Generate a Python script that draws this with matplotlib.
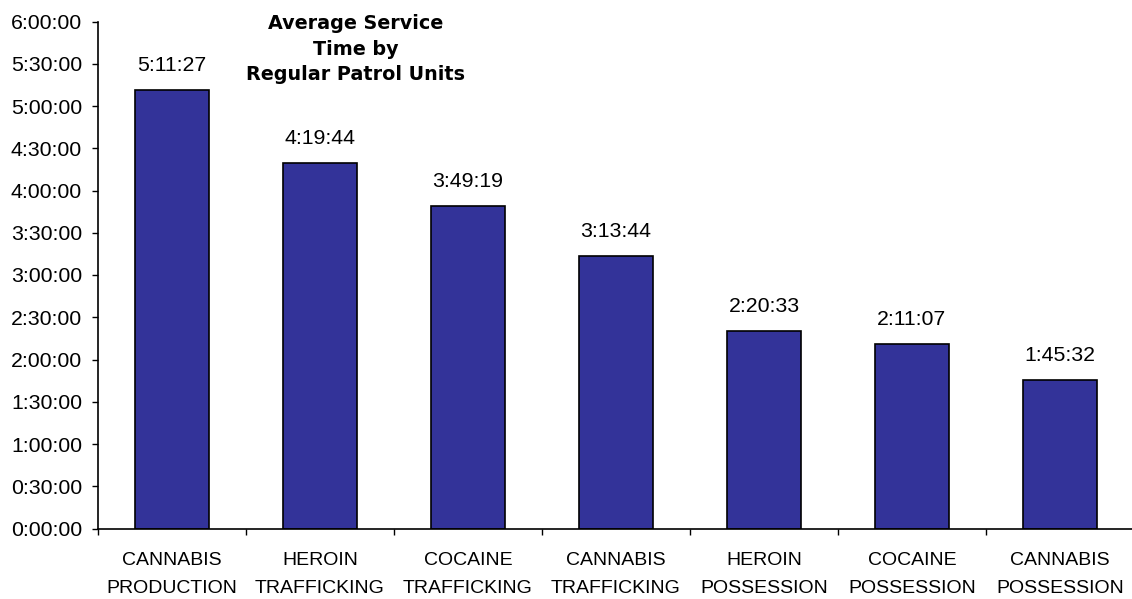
import matplotlib
matplotlib.use("Agg")
import matplotlib.pyplot as plt
from matplotlib.ticker import FuncFormatter, MultipleLocator

plt.rcParams['font.family'] = ['Liberation Sans', 'DejaVu Sans']

categories = ["CANNABIS\nPRODUCTION", "HEROIN\nTRAFFICKING", "COCAINE\nTRAFFICKING",
              "CANNABIS\nTRAFFICKING", "HEROIN\nPOSSESSION", "COCAINE\nPOSSESSION",
              "CANNABIS\nPOSSESSION"]
value_labels = ["5:11:27", "4:19:44", "3:49:19", "3:13:44", "2:20:33", "2:11:07", "1:45:32"]
title = "Average Service\nTime by\nRegular Patrol Units"


def to_sec(s):
    h, m, sec = s.split(":")
    return int(h) * 3600 + int(m) * 60 + int(sec)


values = [to_sec(s) for s in value_labels]


def fmt(x, pos=None):
    x = int(round(x))
    return f"{x // 3600}:{(x % 3600) // 60:02d}:{x % 60:02d}"


W, H = 1132, 599
fig = plt.figure(figsize=(W / 100, H / 100), dpi=100)
ax = fig.add_axes([98 / W, (H - 528.5) / H, 1036 / W, 507 / H])

xs = list(range(len(categories)))
ax.bar(xs, values, width=0.5, color="#333399", edgecolor="black", linewidth=1.2, zorder=2)
for x, v, lab in zip(xs, values, value_labels):
    ax.annotate(lab, (x, v), xytext=(0, 13.5), textcoords="offset points",
                ha="center", va="baseline", fontsize=15.3)

ax.set_xlim(-0.5, len(categories) - 0.5)
ax.set_ylim(0, 6 * 3600)
ax.yaxis.set_major_locator(MultipleLocator(1800))
ax.yaxis.set_major_formatter(FuncFormatter(fmt))
ax.tick_params(axis="y", direction="out", length=4.5, width=1, labelsize=15.3, pad=7)

ax.set_xticks(xs)
ax.set_xticklabels(categories, fontsize=14, linespacing=1.85)
ax.tick_params(axis="x", which="major", length=0, pad=17)
ax.set_xticks([i - 0.5 for i in range(len(categories) + 1)], minor=True)
ax.tick_params(axis="x", which="minor", direction="out", length=4.5, width=1)

for s in ["top", "right"]:
    ax.spines[s].set_visible(False)
for s in ["left", "bottom"]:
    ax.spines[s].set_linewidth(1.2)

fig.text(355.5 / W, 1 - 14 / H, title, ha="center", va="top", fontsize=13.8,
         fontweight="bold", family="DejaVu Sans", linespacing=1.45)

fig.savefig("out.png", dpi=100)
